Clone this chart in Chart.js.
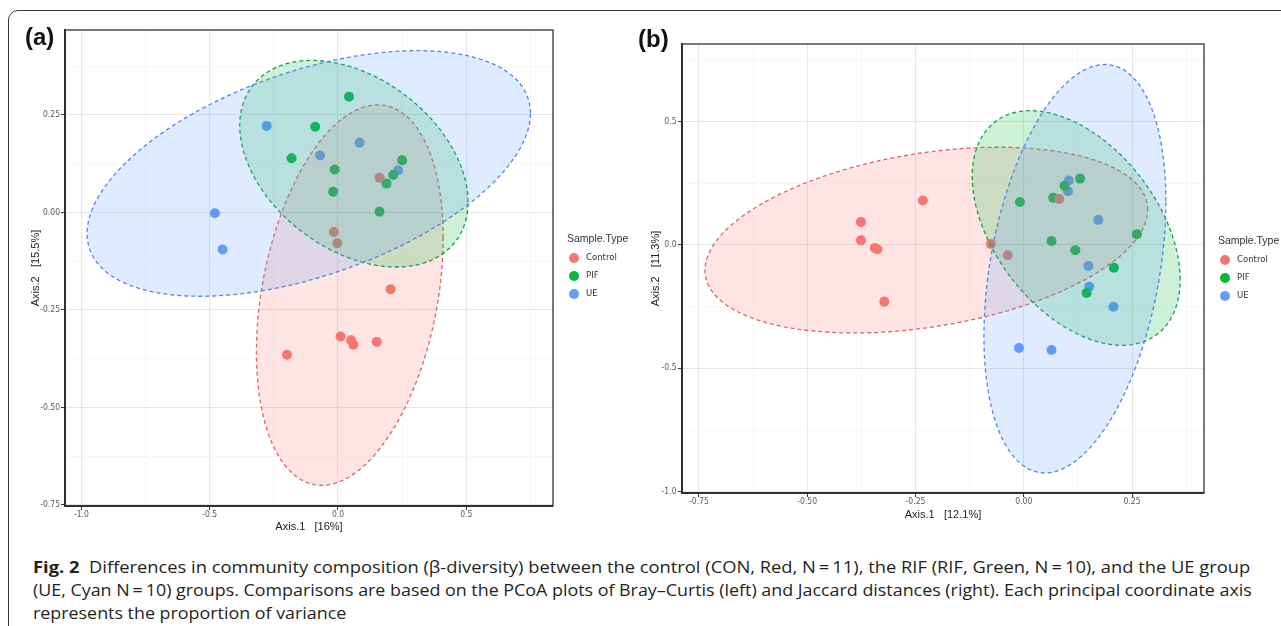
<!DOCTYPE html>
<html lang="en">
<head>
<meta charset="UTF-8">
<title>PCoA Bray-Curtis / Jaccard</title>
<script src="https://cdn.jsdelivr.net/npm/chart.js@4"></script>
<style>
  body { margin: 0; width: 1281px; height: 626px; overflow: hidden; background: #fff; position: relative; }
  #frame { position: absolute; left: 8px; top: 10px; width: 1300px; height: 700px; border: 1.5px solid #3a3a3a; border-radius: 10px; box-sizing: border-box; }
  canvas { position: absolute; top: 0; }
  #chartA { left: 0; }
  #chartB { left: 630px; }
  .tag { position: absolute; font: bold 24px Arial, "Liberation Sans", sans-serif; line-height: 24px; color: #111; }
  .cap { position: absolute; left: 33px; white-space: nowrap; font-family: "Open Sans", sans-serif; font-size: 16px; line-height: 20px; color: #231f20; transform-origin: 0 0; }
</style>
</head>
<body>
<div id="frame"></div>
<canvas id="chartA" width="640" height="540"></canvas>
<canvas id="chartB" width="651" height="540"></canvas>
<div class="tag" style="left:25px; top:25px;">(a)</div>
<div class="tag" style="left:638px; top:27px;">(b)</div>
<div class="cap" id="cap1" style="top:557px;"><b>Fig. 2</b>&nbsp; Differences in community composition (β-diversity) between the control (CON, Red, N&thinsp;=&thinsp;11), the RIF (RIF, Green, N&thinsp;=&thinsp;10), and the UE group</div>
<div class="cap" id="cap2" style="top:580px;">(UE, Cyan N&thinsp;=&thinsp;10) groups. Comparisons are based on the PCoA plots of Bray–Curtis (left) and Jaccard distances (right). Each principal coordinate axis</div>
<div class="cap" id="cap3" style="top:603px;">represents the proportion of variance</div>

<script>
// groups (order: Control, PIF, UE)
const groups = ['Control', 'PIF', 'UE'];
const groupColors = ['#F8766D', '#00BA38', '#619CFF'];
const lineColors = ['#e0655f', '#13a046', '#5186e6'];
const fillColors = ['rgba(248,118,109,0.2)', 'rgba(0,186,56,0.2)', 'rgba(97,156,255,0.2)'];

// ---- panel (a): Bray-Curtis ----
const aControlX = [0.162, -0.016, -0.003, 0.205, 0.010, 0.051, 0.060, 0.151, -0.199];
const aControlY = [0.089, -0.050, -0.079, -0.197, -0.318, -0.328, -0.339, -0.332, -0.365];
const aPifX = [0.043, -0.089, -0.181, -0.013, -0.019, 0.250, 0.215, 0.189, 0.162];
const aPifY = [0.297, 0.220, 0.139, 0.110, 0.053, 0.134, 0.096, 0.074, 0.002];
const aUeX = [-0.278, -0.070, 0.084, 0.234, -0.480, -0.450];
const aUeY = [0.222, 0.146, 0.179, 0.108, -0.002, -0.095];
// ellipse centre, half-extent along x / y, and tilt coefficient (Control, PIF, UE)
const aEllCx = [0.046, 0.062, -0.114];
const aEllCy = [-0.212, 0.125, 0.100];
const aEllRx = [0.364, 0.445, 0.864];
const aEllRy = [0.488, 0.265, 0.315];
const aEllRho = [0.30, -0.37, 0.49];
const aXTicks = [-1.0, -0.5, 0.0, 0.5];
const aXTickLabels = ['-1.0', '-0.5', '0.0', '0.5'];
const aYTicks = [0.25, 0.0, -0.25, -0.5, -0.75];
const aYTickLabels = ['0.25', '0.00', '-0.25', '-0.50', '-0.75'];

// ---- panel (b): Jaccard ----
const bControlX = [-0.233, -0.376, -0.376, -0.344, -0.338, -0.076, -0.037, 0.082, -0.322];
const bControlY = [0.179, 0.092, 0.018, -0.013, -0.018, 0.003, -0.042, 0.185, -0.230];
const bPifX = [-0.009, 0.068, 0.094, 0.130, 0.064, 0.119, 0.261, 0.208, 0.145];
const bPifY = [0.173, 0.190, 0.239, 0.268, 0.015, -0.022, 0.043, -0.093, -0.195];
const bUeX = [0.104, 0.102, 0.172, 0.149, 0.151, 0.207, -0.011, 0.064];
const bUeY = [0.260, 0.217, 0.101, -0.086, -0.170, -0.251, -0.418, -0.426];
const bEllCx = [-0.225, 0.121, 0.118];
const bEllCy = [0.019, 0.068, -0.097];
const bEllRx = [0.511, 0.240, 0.210];
const bEllRy = [0.376, 0.475, 0.827];
const bEllRho = [0.325, -0.44, 0.33];
const bXTicks = [-0.75, -0.5, -0.25, 0.0, 0.25];
const bXTickLabels = ['-0.75', '-0.50', '-0.25', '0.00', '0.25'];
const bYTicks = [0.5, 0.0, -0.5, -1.0];
const bYTickLabels = ['0.5', '0.0', '-0.5', '-1.0'];

const tickFont = { family: '"Liberation Sans Narrow", "Arial Narrow", "DejaVu Sans Condensed", sans-serif', size: 8.5 };
const titleFont = { family: 'Arial, "Liberation Sans", sans-serif', size: 11 };

function toPoints(xs, ys) {
  return xs.map((x, i) => ({ x: x, y: ys[i] }));
}

// outline of a tilted ellipse from its centre / extents
function ellipse(cx, cy, rx, ry, rho) {
  const pts = [];
  const s = Math.sqrt(1 - rho * rho);
  for (let i = 0; i <= 144; i++) {
    const t = i / 144 * 2 * Math.PI;
    pts.push({ x: cx + rx * Math.cos(t), y: cy + ry * (rho * Math.cos(t) + s * Math.sin(t)) });
  }
  return pts;
}

function tickIndex(list, v) {
  return list.findIndex(t => Math.abs(t - v) < 1e-6);
}

function axis(o) {
  const horiz = o.position === 'bottom';
  return {
    type: 'linear',
    position: o.position,
    min: o.min,
    max: o.max,
    afterFit: s => { if (horiz) s.height = o.size; else s.width = o.size; },
    border: { display: true, color: '#2b2b2b', width: 2 },
    grid: {
      color: c => tickIndex(o.ticks, c.tick.value) >= 0 ? '#e6e6e6' : '#f3f3f3',
      lineWidth: c => tickIndex(o.ticks, c.tick.value) >= 0 ? 1.1 : 0.7,
      tickLength: 4,
      tickWidth: 1,
      tickColor: c => tickIndex(o.ticks, c.tick.value) >= 0 ? '#333' : 'rgba(0,0,0,0)'
    },
    ticks: {
      stepSize: o.step,
      includeBounds: false,
      autoSkip: false,
      maxRotation: 0,
      padding: o.tickPad,
      font: tickFont,
      color: '#5a5a5a',
      callback: v => {
        const k = tickIndex(o.ticks, v);
        return k >= 0 ? o.labels[k] : '';
      }
    },
    title: {
      display: true,
      text: o.title,
      font: titleFont,
      color: '#222',
      padding: horiz ? { top: 0, bottom: o.titlePad } : { top: o.titlePad, bottom: 0 }
    }
  };
}

// panel frame + legend drawn on top of the plot
const panelExtras = {
  id: 'panelExtras',
  afterDatasetsDraw(chart) {
    const { ctx, chartArea: a } = chart;
    ctx.save();
    ctx.strokeStyle = '#333';
    ctx.lineWidth = 1.3;
    ctx.strokeRect(a.left, a.top, a.right - a.left, a.bottom - a.top);
    ctx.restore();
  },
  afterDraw(chart, args, opts) {
    const { ctx, chartArea: a } = chart;
    const x0 = a.right + opts.dx;
    ctx.save();
    ctx.fillStyle = '#333';
    ctx.font = '10.5px Arial, "Liberation Sans", sans-serif';
    ctx.textBaseline = 'middle';
    ctx.fillText('Sample.Type', x0, opts.y);
    ctx.font = '9.5px "Liberation Sans Narrow", "Arial Narrow", "DejaVu Sans Condensed", sans-serif';
    groups.forEach((g, i) => {
      const yy = opts.y + 19 + i * 18;
      ctx.fillStyle = groupColors[i];
      ctx.beginPath();
      ctx.arc(x0 + 7, yy, 5, 0, Math.PI * 2);
      ctx.fill();
      ctx.fillStyle = '#333';
      ctx.fillText(g, x0 + 19, yy);
    });
    ctx.restore();
  }
};

function buildChart(id, d) {
  const datasets = [];
  d.points.forEach((p, i) => {
    datasets.push({
      label: groups[i],
      data: toPoints(p[0], p[1]),
      pointRadius: 5,
      pointHoverRadius: 5,
      pointBorderWidth: 0,
      backgroundColor: groupColors[i],
      order: 10
    });
  });
  groups.forEach((g, i) => {
    datasets.push({
      label: g + ' ellipse',
      data: ellipse(d.ell[0][i], d.ell[1][i], d.ell[2][i], d.ell[3][i], d.ell[4][i]),
      showLine: true,
      pointRadius: 0,
      borderColor: lineColors[i],
      borderWidth: 1.3,
      borderDash: [4, 3],
      backgroundColor: fillColors[i],
      fill: 'shape',
      order: 2 - i
    });
  });
  return new Chart(document.getElementById(id), {
    type: 'scatter',
    data: { datasets: datasets },
    options: {
      responsive: false,
      animation: false,
      layout: { padding: d.padding },
      plugins: {
        legend: { display: false },
        tooltip: { enabled: false },
        panelExtras: d.legend
      },
      scales: { x: d.x, y: d.y }
    },
    plugins: [panelExtras]
  });
}

buildChart('chartA', {
  points: [[aControlX, aControlY], [aPifX, aPifY], [aUeX, aUeY]],
  ell: [aEllCx, aEllCy, aEllRx, aEllRy, aEllRho],
  padding: { left: 0, top: 30, right: 87, bottom: 0 },
  legend: { dx: 14, y: 239 },
  x: axis({ position: 'bottom', min: -1.064, max: 0.838, step: 0.25, ticks: aXTicks, labels: aXTickLabels,
            size: 34, tickPad: 0, title: 'Axis.1   [16%]', titlePad: 6 }),
  y: axis({ position: 'left', min: -0.753, max: 0.468, step: 0.125, ticks: aYTicks, labels: aYTickLabels,
            size: 65, tickPad: 1, title: 'Axis.2   [15.5%]', titlePad: 29 })
});

buildChart('chartB', {
  points: [[bControlX, bControlY], [bPifX, bPifY], [bUeX, bUeY]],
  ell: [bEllCx, bEllCy, bEllRx, bEllRy, bEllRho],
  padding: { left: 0, top: 44, right: 77, bottom: 0 },
  legend: { dx: 14, y: 241 },
  x: axis({ position: 'bottom', min: -0.789, max: 0.416, step: 0.125, ticks: bXTicks, labels: bXTickLabels,
            size: 47, tickPad: 0, title: 'Axis.1   [12.1%]', titlePad: 18 }),
  y: axis({ position: 'left', min: -1.005, max: 0.813, step: 0.25, ticks: bYTicks, labels: bYTickLabels,
            size: 52, tickPad: 1.5, title: 'Axis.2   [11.3%]', titlePad: 19 })
});

// squeeze each full caption line to the width of the original caption block
const capWidths = [1217, 1219];
let lastScale = 1;
['cap1', 'cap2'].forEach((id, i) => {
  const el = document.getElementById(id);
  lastScale = capWidths[i] / el.scrollWidth;
  el.style.transform = 'scaleX(' + lastScale.toFixed(4) + ')';
});
document.getElementById('cap3').style.transform = 'scaleX(' + lastScale.toFixed(4) + ')';
</script>
</body>
</html>
